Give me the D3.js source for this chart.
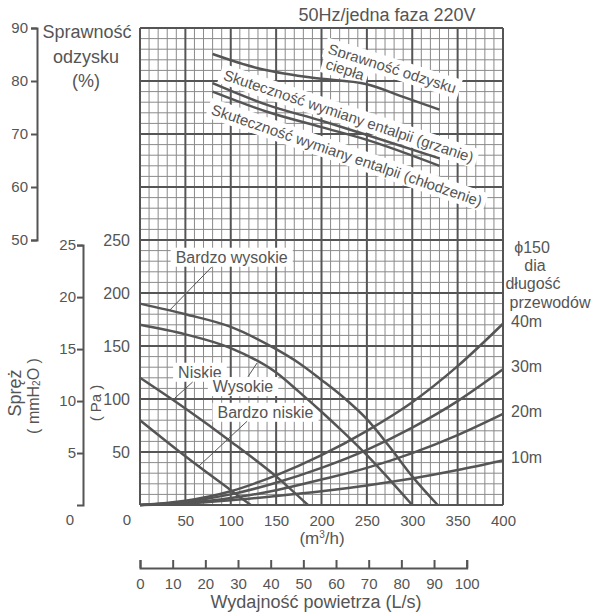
<!DOCTYPE html>
<html><head><meta charset="utf-8">
<script src="https://cdn.jsdelivr.net/npm/d3@7"></script>
<style>
body{margin:0;background:#fff;}
svg{display:block;font-family:"Liberation Sans",Arial,sans-serif;}
text{fill:#555;}
</style></head><body>
<svg id="c" width="591" height="615"></svg>
<script>
// ---------- data ----------
const flowTicks = [50, 100, 150, 200, 250, 300, 350, 400];      // m3/h
const paTicks = [50, 100, 150, 200, 250];                       // Pa
const pctTicks = [50, 60, 70, 80, 90];                          // %
const mmTicks = [5, 10, 15, 20, 25];                            // mmH2O
const lsTicks = [0, 10, 20, 30, 40, 50, 60, 70, 80, 90, 100];   // L/s

// fan curves [m3/h, Pa]
const fanBardzoWysokie = [[0,190],[50,180],[100,168],[150,147],[175,134],[200,118],[225,101],[250,81],[275,55],[300,27],[328,0]];
const fanWysokie       = [[0,170],[50,161],[100,148],[150,125],[175,107],[200,88],[225,68],[250,47],[275,24],[300,0]];
const fanNiskie        = [[0,120],[50,91],[100,60],[150,27],[185,0]];
const fanBardzoNiskie  = [[0,80],[50,46],[100,14],[122,0]];

// duct resistance curves (phi150) [m3/h, Pa]
const duct40 = [[0,0],[50,4],[100,13],[150,28],[200,47],[250,70],[300,97],[350,131],[400,171]];
const duct30 = [[0,0],[50,3],[100,10],[150,21],[200,35],[250,52],[300,73],[350,98],[400,128]];
const duct20 = [[0,0],[50,2],[100,6.5],[150,14],[200,24],[250,35],[300,49],[350,66],[400,86]];
const duct10 = [[0,0],[50,1.5],[100,4.5],[150,8.5],[200,13],[250,18.5],[300,25],[350,33],[400,42]];
const ductNames = ["40m","30m","20m","10m"];

// efficiency curves [m3/h, %]
const effHeat     = [[80,85.1],[130,82.4],[190,80.6],[250,79.4],[290,77.0],[330,74.6]];
const effEntHeat  = [[80,79.6],[140,75.5],[200,72.5],[250,69.8],[330,65.4]];
const effEntCool  = [[80,78.0],[140,74.2],[200,71.3],[250,68.9],[330,64.0]];

// ---------- scales ----------
const svg = d3.select("#c");
const x = d3.scaleLinear([0, 400], [140, 503]);
const y = d3.scaleLinear([0, 450], [505, 28]);             // Pa-equivalent (whole grid)
const yPct = d3.scaleLinear([50, 90], [y(250), y(450)]);  // efficiency %
const yMm = d3.scaleLinear([0, 25], [y(0), y(25 * 9.80665)]);
const xLs = d3.scaleLinear([0, 100], [x(0), x(360)]);

const C = "#555";

// ---------- grid ----------
const grid = svg.append("g");
const vx = d3.range(0, 401, 10), hy = d3.range(0, 451, 10);
grid.selectAll("line.vmin").data(vx.filter(v => v % 50)).join("line")
  .attr("x1", d => x(d)).attr("x2", d => x(d)).attr("y1", y(0)).attr("y2", y(450))
  .attr("stroke", "#8a8a8a").attr("stroke-width", 1);
grid.selectAll("line.hmin").data(hy.filter(v => v % 50)).join("line")
  .attr("y1", d => y(d)).attr("y2", d => y(d)).attr("x1", x(0)).attr("x2", x(400))
  .attr("stroke", "#8a8a8a").attr("stroke-width", 1);
grid.selectAll("line.vmaj").data(vx.filter(v => v % 50 === 0)).enter().append("line")
  .attr("x1", d => x(d)).attr("x2", d => x(d)).attr("y1", y(0)).attr("y2", y(450))
  .attr("stroke", C).attr("stroke-width", 2);
grid.selectAll("line.hmaj").data(hy.filter(v => v % 50 === 0)).enter().append("line")
  .attr("y1", d => y(d)).attr("y2", d => y(d)).attr("x1", x(0)).attr("x2", x(400))
  .attr("stroke", C).attr("stroke-width", 2);

// ---------- white label boxes for rotated labels ----------
const rotLabels = [
  {t: "Sprawność odzysku", cx: 278, cy: 412, a: 17.5},
  {t: "ciepła", cx: 226, cy: 411, a: 17.5},
  {t: "Skuteczność wymiany entalpii (grzanie)", cx: 230, cy: 367, a: 18.5},
  {t: "Skuteczność wymiany entalpii (chłodzenie)", cx: 228, cy: 330, a: 19}
];
const rl = svg.append("g").selectAll("g").data(rotLabels).join("g")
  .attr("transform", d => `translate(${x(d.cx)},${y(d.cy)}) rotate(${d.a})`);
const rlRect = rl.append("rect").attr("fill", "#fff");
const rlText = rl.append("text").attr("text-anchor", "middle").attr("dy", "0.36em")
  .attr("font-size", 15).text(d => d.t);
rlText.each(function(){
  const w = this.getComputedTextLength();
  d3.select(this.parentNode).select("rect").attr("x", -w/2 - 4).attr("width", w + 8)
    .attr("y", -10).attr("height", 20);
});

// ---------- fan label boxes & leaders ----------
const fanLabels = [
  {t: "Bardzo wysokie", cx: 101, cy: 234, l: [[79,224.5],[33,184]]},
  {t: "Niskie", cx: 66, cy: 125.5, l: [[58,116],[38.6,101]]},
  {t: "Wysokie", cx: 113.5, cy: 112, l: [[119,121],[129,134]]},
  {t: "Bardzo niskie", cx: 138.3, cy: 87.7, l: [[118,79],[64,36]]}
];
const fl = svg.append("g").selectAll("g").data(fanLabels).join("g");
fl.append("rect").attr("fill", "#fff");
fl.append("text").attr("x", d => x(d.cx)).attr("y", d => y(d.cy)).attr("dy", "0.36em")
  .attr("text-anchor", "middle").attr("font-size", 16).text(d => d.t)
  .each(function(){
    const b = this.getBBox();
    d3.select(this.parentNode).select("rect").attr("x", b.x - 5).attr("width", b.width + 10)
      .attr("y", b.y - 1).attr("height", b.height + 2);
  });
fl.append("line")
  .attr("x1", d => x(d.l[0][0])).attr("y1", d => y(d.l[0][1]))
  .attr("x2", d => x(d.l[1][0])).attr("y2", d => y(d.l[1][1]))
  .attr("stroke", C).attr("stroke-width", 1);

// ---------- curves ----------
const linePa = d3.line().x(d => x(d[0])).y(d => y(d[1])).curve(d3.curveMonotoneX);
const linePct = d3.line().x(d => x(d[0])).y(d => yPct(d[1])).curve(d3.curveMonotoneX);
const curves = svg.append("g").attr("fill", "none").attr("stroke", C).attr("stroke-width", 2.5);
[fanBardzoWysokie, fanWysokie, fanNiskie, fanBardzoNiskie, duct40, duct30, duct20, duct10]
  .forEach(s => curves.append("path").attr("d", linePa(s)));
[effHeat, effEntHeat, effEntCool].forEach(s => curves.append("path").attr("d", linePct(s)));

fl.raise();
rl.selectAll("text").raise();

// ---------- axes ----------
function styleAxis(g){
  g.selectAll("path,line").attr("stroke", C).attr("stroke-width", 2);
  g.selectAll("text").attr("fill", C).attr("font-family", null);
}
svg.append("g").attr("transform", "translate(37,0)")
  .call(d3.axisLeft(yPct).tickValues(pctTicks).tickSize(6).tickSizeOuter(6).tickPadding(3))
  .attr("font-size", 15).call(styleAxis);

svg.append("g").attr("transform", "translate(83,0)")
  .call(d3.axisLeft(yMm).tickValues(mmTicks).tickSize(6).tickSizeOuter(6).tickPadding(1))
  .attr("font-size", 15).call(styleAxis);

svg.append("g").attr("transform", "translate(130,0)")
  .call(d3.axisLeft(y).tickValues(paTicks).tickSize(0).tickPadding(0))
  .attr("font-size", 16).call(styleAxis).call(g => g.select(".domain").remove());

svg.append("g").attr("transform", `translate(0,${y(0)})`)
  .call(d3.axisBottom(x).tickValues(flowTicks).tickSize(0).tickPadding(10))
  .attr("font-size", 15).call(styleAxis).call(g => g.select(".domain").remove());

svg.append("g").attr("transform", "translate(0,568)")
  .call(d3.axisBottom(xLs).tickValues(lsTicks).tickSize(-8).tickSizeOuter(-8).tickPadding(10))
  .attr("font-size", 15).call(styleAxis);

svg.append("text").attr("x", x(0) - 13).attr("y", 520).attr("dy", "0.36em").attr("text-anchor", "middle")
  .attr("font-size", 15).text("0");
svg.append("text").attr("x", 70).attr("y", 520).attr("dy", "0.36em").attr("text-anchor", "middle")
  .attr("font-size", 15).text("0");

// ---------- titles ----------
function t(str, px, py, size, anchor){
  return svg.append("text").attr("x", px).attr("y", py).attr("dy", "0.36em")
    .attr("text-anchor", anchor || "middle").attr("font-size", size).text(str);
}
t("50Hz/jedna faza 220V", 387, 15, 18);
t("Sprawność", 87, 32, 18);
t("odzysku", 86, 57, 18);
t("(%)", 86, 81, 18);
const mh = svg.append("text").attr("x", 322).attr("y", 544)
  .attr("text-anchor", "middle").attr("font-size", 17);
mh.append("tspan").text("(m");
mh.append("tspan").attr("font-size", 10).attr("dy", -6).text("3");
mh.append("tspan").attr("dy", 6).text("/h)");
t("Wydajność powietrza (L/s)", 316, 602, 18);

// vertical titles
svg.append("text").attr("transform", "translate(15,393) rotate(-90)").attr("dy", "0.36em")
  .attr("text-anchor", "middle").attr("font-size", 18).text("Spręż");
const mm = svg.append("text").attr("transform", "translate(33,396) rotate(-90)").attr("y", 6)
  .attr("text-anchor", "middle").attr("font-size", 16);
mm.append("tspan").text("( mmH");
mm.append("tspan").attr("font-size", 10).attr("dy", 1).text("2");
mm.append("tspan").attr("dy", -1).text("O )");
svg.append("text").attr("transform", "translate(96,403) rotate(-90)").attr("dy", "0.36em")
  .attr("text-anchor", "middle").attr("font-size", 15).text("( Pa )");

// right-side labels
t("ϕ150", 532, 247, 16);
t("dia", 535, 265, 16);
t("długość", 533, 283, 16);
t("przewodów", 550, 302, 16);
[duct40, duct30, duct20, duct10].forEach((s, i) => {
  const last = s[s.length - 1];
  t(ductNames[i], x(last[0]) + 8, y(last[1]) - 3, 16, "start");
});
</script>
</body></html>
